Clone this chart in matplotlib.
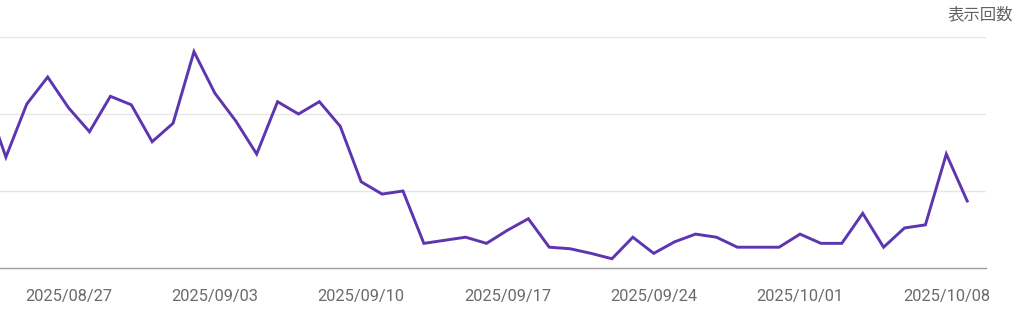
import matplotlib
matplotlib.use("Agg")
import matplotlib.pyplot as plt
import numpy as np

dates = ["08/23","08/24","08/25","08/26","08/27","08/28","08/29","08/30","08/31",
         "09/01","09/02","09/03","09/04","09/05","09/06","09/07","09/08","09/09",
         "09/10","09/11","09/12","09/13","09/14","09/15","09/16","09/17","09/18",
         "09/19","09/20","09/21","09/22","09/23","09/24","09/25","09/26","09/27",
         "09/28","09/29","09/30","10/01","10/02","10/03","10/04","10/05","10/06",
         "10/07","10/08","10/09"]
impressions = [222, 144, 213, 248, 208, 177, 223, 212, 164,
               188, 281, 227, 191, 148, 216, 200, 216, 184,
               112, 96, 100, 32, 36, 40, 32, 49, 64,
               27, 25, 19, 12, 40, 19, 34, 44, 40,
               27, 27, 27, 44, 32, 32, 71, 27, 52,
               56, 148, 87]
tick_dates = ["08/27", "09/03", "09/10", "09/17", "09/24", "10/01", "10/08"]
tick_labels = ["2025/" + d for d in tick_dates]
y_grid = [100, 200, 300]

plt.rcParams['font.family'] = ['Roboto', 'Noto Sans CJK JP', 'DejaVu Sans']

fig = plt.figure(figsize=(10.24, 3.23), dpi=100)
ax = fig.add_axes([0.0, 0.1703, 0.9629, 0.7151])

x = np.arange(len(dates))
ax.plot(x, impressions, color="#5e35b1", lw=2.1, solid_joinstyle="miter", zorder=3)

ax.set_xlim(0.718, 47.9)
ax.set_ylim(0, 300)

ax.set_yticks(y_grid)
ax.yaxis.grid(True, color="#e6e6e6", lw=1.0)
ax.tick_params(axis="y", length=0, labelleft=False)

ax.set_xticks([dates.index(d) for d in tick_dates])
ax.set_xticklabels(tick_labels, color="#6b6b6b", fontsize=11.8)
ax.tick_params(axis="x", length=0, pad=15)

for s in ["top", "right", "left"]:
    ax.spines[s].set_visible(False)
ax.spines["bottom"].set_color("#9e9e9e")
ax.spines["bottom"].set_linewidth(1.0)

fig.text(0.989, 0.955, "表示回数", ha="right", va="center", color="#5f6368",
         fontsize=11.8, family=['Noto Sans CJK JP', 'DejaVu Sans'])

fig.savefig("out.png", dpi=100)
